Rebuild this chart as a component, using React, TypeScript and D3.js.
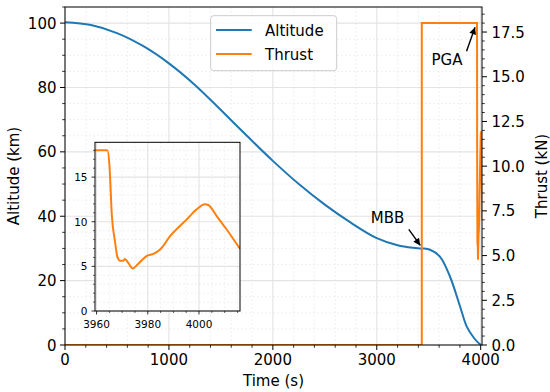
import React from "react";
import * as d3 from "d3";

// ---------- data ----------
const altTime = [0, 250, 500, 750, 1000, 1250, 1500, 1750, 2000, 2250, 2500, 2750, 3000, 3200, 3350, 3433, 3513, 3609, 3705, 3802, 3866, 3930, 3970, 4004];
const altKm = [100.3, 99.4, 96.9, 92.9, 87.5, 80.8, 73.0, 65.0, 57.2, 50.0, 43.6, 38.0, 33.2, 31.0, 30.2, 30.0, 29.6, 27.4, 21.2, 11.9, 5.7, 2.4, 0.9, 0];

const thrTime = [0, 3433, 3433, 3964.2, 3965, 3966, 3967.2, 3968.1, 3969.2, 3970.5, 3971.1, 3972.4, 3974.1, 3976.3, 3979.8, 3982.2, 3984.8, 3988.7, 3995.2, 3999.1, 4002.3, 4003.6, 4006.9, 4010.8, 4016];
const thrKN = [0, 0, 18, 18, 16.5, 10.6, 7.8, 6.1, 5.64, 5.64, 5.83, 5.38, 4.77, 5.3, 6.2, 6.39, 6.88, 8.38, 10.26, 11.39, 11.95, 11.88, 10.64, 9.13, 6.96];

const xTicks = [0, 1000, 2000, 3000, 4000];
const xMinor = d3.range(0, 4001, 200).filter((v) => v % 1000 !== 0);
const yLTicks = [0, 20, 40, 60, 80, 100];
const yLMinor = d3.range(0, 106, 5).filter((v) => v % 20 !== 0);
const yRTicks = [0, 2.5, 5, 7.5, 10, 12.5, 15, 17.5];
const yRMinor = d3.range(0, 18.9, 0.5).filter((v) => Math.abs(v / 2.5 - Math.round(v / 2.5)) > 1e-6);
const inXTicks = [3960, 3980, 4000];
const inXMinor = d3.range(3960, 4016, 5).filter((v) => v % 20 !== 0);
const inYTicks = [0, 5, 10, 15];
const inYMinor = d3.range(0, 19, 1).filter((v) => v % 5 !== 0);

const seriesNames = ["Altitude", "Thrust"];
const annotations = [
  { label: "MBB", t: 3433, v: 30.0, axis: "alt", dx: -51, dy: -25, ax: -13, ay: -19 },
  { label: "PGA", t: 3960, v: 17.6, axis: "thr", dx: -45, dy: 35, ax: -10, ay: 21 },
];

const BLUE = "#1f77b4";
const ORANGE = "#ff7f0e";
const FONT = "DejaVu Sans, sans-serif";

export default function App() {
  const L = 65, R = 482, T = 7, B = 345;
  const x = d3.scaleLinear().domain([0, 4012.5]).range([L, R]);
  const yL = d3.scaleLinear().domain([0, 105]).range([B, T]);
  const yR = d3.scaleLinear().domain([0, 18.9]).range([B, T]);

  const iL = 95, iR = 240, iT = 142.3, iB = 311;
  const ix = d3.scaleLinear().domain([3959.4, 4016]).range([iL, iR]);
  const iy = d3.scaleLinear().domain([0, 18.9]).range([iB, iT]);

  const altPts = altTime.map((t, i) => [t, altKm[i]] as [number, number]);
  const thrPts = thrTime.map((t, i) => [t, thrKN[i]] as [number, number]);

  const altLine = d3
    .line<[number, number]>()
    .x((d) => x(d[0]))
    .y((d) => yL(d[1]))
    .curve(d3.curveCatmullRom.alpha(0.5))(altPts)!;
  const thrLine = d3
    .line<[number, number]>()
    .x((d) => x(d[0]))
    .y((d) => yR(d[1]))(thrPts)!;
  const inPts = thrPts.filter((d) => d[0] > 3900);
  inPts.unshift([3955, 18]);
  const inLine = d3
    .line<[number, number]>()
    .x((d) => ix(d[0]))
    .y((d) => iy(d[1]))
    .curve(d3.curveMonotoneX)(inPts)!;

  const majorGrid = "#e3e3e3";
  const minorGrid = "#ececec";

  return (
    <svg width={550} height={392} style={{ position: "absolute", left: 0, top: 0, background: "white" }} fontFamily={FONT}>
      <defs>
        <clipPath id="mainClip">
          <rect x={L} y={T} width={R - L} height={B - T} />
        </clipPath>
        <clipPath id="inClip">
          <rect x={iL} y={iT} width={iR - iL} height={iB - iT} />
        </clipPath>
        <marker id="arrowHead" viewBox="0 0 10 10" refX="10" refY="5" markerWidth="8" markerHeight="7" markerUnits="userSpaceOnUse" orient="auto">
          <path d="M0,0 L10,5 L0,10 z" fill="black" />
        </marker>
      </defs>
      <rect x={0} y={0} width={550} height={392} fill="white" />

      {/* main grid */}
      {xMinor.map((v) => (
        <line key={"gxm" + v} x1={x(v)} x2={x(v)} y1={T} y2={B} stroke={minorGrid} strokeWidth={0.8} strokeDasharray="2,2" />
      ))}
      {yLMinor.map((v) => (
        <line key={"gym" + v} x1={L} x2={R} y1={yL(v)} y2={yL(v)} stroke={minorGrid} strokeWidth={0.8} strokeDasharray="2,2" />
      ))}
      {xTicks.map((v) => (
        <line key={"gx" + v} x1={x(v)} x2={x(v)} y1={T} y2={B} stroke={majorGrid} strokeWidth={1.1} />
      ))}
      {yLTicks.map((v) => (
        <line key={"gy" + v} x1={L} x2={R} y1={yL(v)} y2={yL(v)} stroke={majorGrid} strokeWidth={1.1} />
      ))}

      {/* series */}
      <g clipPath="url(#mainClip)">
        <path d={altLine} fill="none" stroke={BLUE} strokeWidth={2} />
        <path d={thrLine} fill="none" stroke={ORANGE} strokeWidth={2} />
      </g>

      {/* spines */}
      <rect x={L} y={T} width={R - L} height={B - T} fill="none" stroke="black" strokeWidth={1} />

      {/* x ticks */}
      {xTicks.map((v) => (
        <g key={"xt" + v}>
          <line x1={x(v)} x2={x(v)} y1={B} y2={B + 5} stroke="black" strokeWidth={1} />
          <text x={x(v)} y={B + 19.5} fontSize={15} textAnchor="middle">{v}</text>
        </g>
      ))}
      {xMinor.map((v) => (
        <line key={"xm" + v} x1={x(v)} x2={x(v)} y1={B} y2={B + 2.8} stroke="black" strokeWidth={0.8} />
      ))}
      {/* left y ticks */}
      {yLTicks.map((v) => (
        <g key={"yl" + v}>
          <line x1={L - 5} x2={L} y1={yL(v)} y2={yL(v)} stroke="black" strokeWidth={1} />
          <text x={L - 8.5} y={yL(v) + 5.5} fontSize={15} textAnchor="end">{v}</text>
        </g>
      ))}
      {yLMinor.map((v) => (
        <line key={"ylm" + v} x1={L - 2.8} x2={L} y1={yL(v)} y2={yL(v)} stroke="black" strokeWidth={0.8} />
      ))}
      {/* right y ticks */}
      {yRTicks.map((v) => (
        <g key={"yr" + v}>
          <line x1={R} x2={R + 5} y1={yR(v)} y2={yR(v)} stroke="black" strokeWidth={1} />
          <text x={R + 9.5} y={yR(v) + 5.5} fontSize={15} textAnchor="start">{v.toFixed(1)}</text>
        </g>
      ))}
      {yRMinor.map((v) => (
        <line key={"yrm" + v} x1={R} x2={R + 2.8} y1={yR(v)} y2={yR(v)} stroke="black" strokeWidth={0.8} />
      ))}

      {/* axis labels */}
      <text x={(L + R) / 2} y={386} fontSize={15} textAnchor="middle">Time (s)</text>
      <text transform={`translate(18.5, ${(T + B) / 2}) rotate(-90)`} fontSize={15} textAnchor="middle">Altitude (km)</text>
      <text transform={`translate(546.5, ${(T + B) / 2}) rotate(-90)`} fontSize={15} textAnchor="middle">Thrust (kN)</text>

      {/* annotations */}
      {annotations.map((a) => {
        const px = x(a.t);
        const py = a.axis === "alt" ? yL(a.v) : yR(a.v);
        return (
          <g key={a.label}>
            <text x={px + a.dx} y={py + a.dy} fontSize={15}>{a.label}</text>
            <line x1={px + a.ax} y1={py + a.ay} x2={px - 1.5} y2={py - 3} stroke="black" strokeWidth={1.4} markerEnd="url(#arrowHead)" />
          </g>
        );
      })}

      {/* legend */}
      <rect x={210.7} y={15.7} width={126} height={55} rx={3} fill="white" fillOpacity={0.8} stroke="#cccccc" strokeWidth={1} />
      {seriesNames.map((n, i) => (
        <g key={n}>
          <line x1={216} x2={251.7} y1={30 + i * 24} y2={30 + i * 24} stroke={i === 0 ? BLUE : ORANGE} strokeWidth={2} />
          <text x={265} y={35.5 + i * 24} fontSize={15}>{n}</text>
        </g>
      ))}

      {/* inset */}
      <rect x={iL} y={iT} width={iR - iL} height={iB - iT} fill="white" />
      {inXMinor.map((v) => (
        <line key={"igxm" + v} x1={ix(v)} x2={ix(v)} y1={iT} y2={iB} stroke={minorGrid} strokeWidth={0.8} strokeDasharray="2,2" />
      ))}
      {inYMinor.map((v) => (
        <line key={"igym" + v} x1={iL} x2={iR} y1={iy(v)} y2={iy(v)} stroke={minorGrid} strokeWidth={0.8} strokeDasharray="2,2" />
      ))}
      {inXTicks.map((v) => (
        <line key={"igx" + v} x1={ix(v)} x2={ix(v)} y1={iT} y2={iB} stroke={majorGrid} strokeWidth={1.1} />
      ))}
      {inYTicks.map((v) => (
        <line key={"igy" + v} x1={iL} x2={iR} y1={iy(v)} y2={iy(v)} stroke={majorGrid} strokeWidth={1.1} />
      ))}
      <g clipPath="url(#inClip)">
        <path d={inLine} fill="none" stroke={ORANGE} strokeWidth={2} />
      </g>
      <rect x={iL} y={iT} width={iR - iL} height={iB - iT} fill="none" stroke="black" strokeWidth={1} />
      {inXTicks.map((v) => (
        <g key={"ixt" + v}>
          <line x1={ix(v)} x2={ix(v)} y1={iB} y2={iB + 3.5} stroke="black" strokeWidth={0.8} />
          <text x={ix(v)} y={iB + 16.5} fontSize={10.5} textAnchor="middle">{v}</text>
        </g>
      ))}
      {inXMinor.map((v) => (
        <line key={"ixm" + v} x1={ix(v)} x2={ix(v)} y1={iB} y2={iB + 2} stroke="black" strokeWidth={0.6} />
      ))}
      {inYTicks.map((v) => (
        <g key={"iyt" + v}>
          <line x1={iL - 3.5} x2={iL} y1={iy(v)} y2={iy(v)} stroke="black" strokeWidth={0.8} />
          <text x={iL - 7.5} y={iy(v) + 3.8} fontSize={10.5} textAnchor="end">{v}</text>
        </g>
      ))}
      {inYMinor.map((v) => (
        <line key={"iym" + v} x1={iL - 2} x2={iL} y1={iy(v)} y2={iy(v)} stroke="black" strokeWidth={0.6} />
      ))}
    </svg>
  );
}
